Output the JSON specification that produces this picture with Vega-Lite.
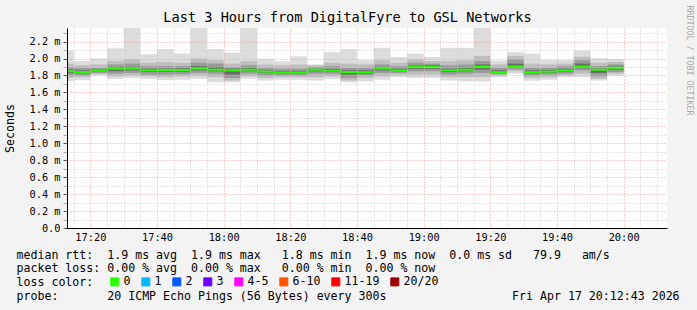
{
  "$schema": "https://vega.github.io/schema/vega-lite/v6.json",
  "width": 600,
  "height": 200,
  "autosize": {"type": "none"},
  "padding": {"left": 67, "top": 28, "right": 30, "bottom": 82},
  "background": "#f3f3f3",
  "config": {"font": "DejaVu Sans Mono", "view": {"fill": "white", "stroke": null}},
  "title": {"text": "Last 3 Hours from DigitalFyre to GSL Networks", "font": "DejaVu Sans Mono", "fontSize": 13.6, "fontWeight": "normal", "color": "black", "anchor": "middle", "frame": "group", "dx": -19.5, "dy": 24, "offset": 4},
  "data": {"values": [
    {"t":"2026-04-17T17:10:00","e":"2026-04-17T17:15:00","loss":"0","mn":1.73,"a1":1.77,"a2":1.80,"a3":1.83,"md":1.85,"b3":1.87,"b2":1.90,"b1":1.94,"mx":2.09},
    {"t":"2026-04-17T17:15:00","e":"2026-04-17T17:20:00","loss":"0","mn":1.745,"a1":1.78,"a2":1.80,"a3":1.825,"md":1.84,"b3":1.86,"b2":1.89,"b1":1.92,"mx":1.97},
    {"t":"2026-04-17T17:20:00","e":"2026-04-17T17:25:00","loss":"0","mn":1.80,"a1":1.815,"a2":1.83,"a3":1.845,"md":1.856,"b3":1.87,"b2":1.89,"b1":1.93,"mx":2.00},
    {"t":"2026-04-17T17:25:00","e":"2026-04-17T17:30:00","loss":"0","mn":1.76,"a1":1.79,"a2":1.82,"a3":1.85,"md":1.88,"b3":1.90,"b2":1.93,"b1":1.97,"mx":2.12},
    {"t":"2026-04-17T17:30:00","e":"2026-04-17T17:35:00","loss":"0","mn":1.77,"a1":1.80,"a2":1.83,"a3":1.86,"md":1.88,"b3":1.90,"b2":1.94,"b1":1.99,"mx":2.40},
    {"t":"2026-04-17T17:35:00","e":"2026-04-17T17:40:00","loss":"0","mn":1.76,"a1":1.79,"a2":1.81,"a3":1.84,"md":1.86,"b3":1.88,"b2":1.91,"b1":1.95,"mx":2.05},
    {"t":"2026-04-17T17:40:00","e":"2026-04-17T17:45:00","loss":"0","mn":1.745,"a1":1.78,"a2":1.81,"a3":1.845,"md":1.864,"b3":1.88,"b2":1.91,"b1":1.96,"mx":2.11},
    {"t":"2026-04-17T17:45:00","e":"2026-04-17T17:50:00","loss":"0","mn":1.75,"a1":1.79,"a2":1.815,"a3":1.845,"md":1.864,"b3":1.885,"b2":1.91,"b1":1.95,"mx":2.06},
    {"t":"2026-04-17T17:50:00","e":"2026-04-17T17:55:00","loss":"0","mn":1.76,"a1":1.80,"a2":1.83,"a3":1.86,"md":1.88,"b3":1.91,"b2":1.95,"b1":2.00,"mx":2.40},
    {"t":"2026-04-17T17:55:00","e":"2026-04-17T18:00:00","loss":"0","mn":1.72,"a1":1.78,"a2":1.82,"a3":1.85,"md":1.868,"b3":1.90,"b2":1.94,"b1":1.98,"mx":2.11},
    {"t":"2026-04-17T18:00:00","e":"2026-04-17T18:05:00","loss":"0","mn":1.72,"a1":1.74,"a2":1.77,"a3":1.81,"md":1.86,"b3":1.88,"b2":1.90,"b1":1.94,"mx":2.07},
    {"t":"2026-04-17T18:05:00","e":"2026-04-17T18:10:00","loss":"0","mn":1.76,"a1":1.79,"a2":1.82,"a3":1.85,"md":1.868,"b3":1.89,"b2":1.92,"b1":1.97,"mx":2.40},
    {"t":"2026-04-17T18:10:00","e":"2026-04-17T18:15:00","loss":"0","mn":1.74,"a1":1.77,"a2":1.80,"a3":1.83,"md":1.845,"b3":1.86,"b2":1.89,"b1":1.93,"mx":1.995},
    {"t":"2026-04-17T18:15:00","e":"2026-04-17T18:20:00","loss":"0","mn":1.75,"a1":1.78,"a2":1.80,"a3":1.82,"md":1.833,"b3":1.85,"b2":1.88,"b1":1.92,"mx":1.966},
    {"t":"2026-04-17T18:20:00","e":"2026-04-17T18:25:00","loss":"0","mn":1.75,"a1":1.78,"a2":1.80,"a3":1.82,"md":1.833,"b3":1.85,"b2":1.88,"b1":1.93,"mx":2.025},
    {"t":"2026-04-17T18:25:00","e":"2026-04-17T18:30:00","loss":"0","mn":1.74,"a1":1.78,"a2":1.82,"a3":1.85,"md":1.868,"b3":1.88,"b2":1.90,"b1":1.92,"mx":1.93},
    {"t":"2026-04-17T18:30:00","e":"2026-04-17T18:35:00","loss":"0","mn":1.76,"a1":1.79,"a2":1.82,"a3":1.84,"md":1.856,"b3":1.875,"b2":1.91,"b1":1.95,"mx":2.075},
    {"t":"2026-04-17T18:35:00","e":"2026-04-17T18:40:00","loss":"0","mn":1.72,"a1":1.74,"a2":1.77,"a3":1.81,"md":1.84,"b3":1.86,"b2":1.89,"b1":1.94,"mx":2.11},
    {"t":"2026-04-17T18:40:00","e":"2026-04-17T18:45:00","loss":"0","mn":1.73,"a1":1.77,"a2":1.80,"a3":1.82,"md":1.838,"b3":1.86,"b2":1.89,"b1":1.93,"mx":1.98},
    {"t":"2026-04-17T18:45:00","e":"2026-04-17T18:50:00","loss":"0","mn":1.75,"a1":1.79,"a2":1.83,"a3":1.86,"md":1.882,"b3":1.90,"b2":1.93,"b1":1.98,"mx":2.125},
    {"t":"2026-04-17T18:50:00","e":"2026-04-17T18:55:00","loss":"0","mn":1.78,"a1":1.81,"a2":1.83,"a3":1.85,"md":1.86,"b3":1.88,"b2":1.91,"b1":1.95,"mx":2.018},
    {"t":"2026-04-17T18:55:00","e":"2026-04-17T19:00:00","loss":"0","mn":1.77,"a1":1.81,"a2":1.85,"a3":1.88,"md":1.903,"b3":1.92,"b2":1.95,"b1":1.99,"mx":2.057},
    {"t":"2026-04-17T19:00:00","e":"2026-04-17T19:05:00","loss":"0","mn":1.77,"a1":1.81,"a2":1.85,"a3":1.88,"md":1.90,"b3":1.92,"b2":1.94,"b1":1.97,"mx":2.018},
    {"t":"2026-04-17T19:05:00","e":"2026-04-17T19:10:00","loss":"0","mn":1.74,"a1":1.78,"a2":1.81,"a3":1.84,"md":1.86,"b3":1.88,"b2":1.92,"b1":1.97,"mx":2.125},
    {"t":"2026-04-17T19:10:00","e":"2026-04-17T19:15:00","loss":"0","mn":1.73,"a1":1.78,"a2":1.82,"a3":1.85,"md":1.868,"b3":1.89,"b2":1.93,"b1":1.98,"mx":2.125},
    {"t":"2026-04-17T19:15:00","e":"2026-04-17T19:20:00","loss":"0","mn":1.73,"a1":1.78,"a2":1.83,"a3":1.87,"md":1.903,"b3":1.93,"b2":1.97,"b1":2.03,"mx":2.40},
    {"t":"2026-04-17T19:20:00","e":"2026-04-17T19:25:00","loss":"0","mn":1.78,"a1":1.80,"a2":1.815,"a3":1.83,"md":1.838,"b3":1.86,"b2":1.89,"b1":1.93,"mx":1.976},
    {"t":"2026-04-17T19:25:00","e":"2026-04-17T19:30:00","loss":"0","mn":1.82,"a1":1.85,"a2":1.87,"a3":1.89,"md":1.905,"b3":1.94,"b2":1.99,"b1":2.03,"mx":2.075},
    {"t":"2026-04-17T19:30:00","e":"2026-04-17T19:35:00","loss":"0","mn":1.738,"a1":1.77,"a2":1.80,"a3":1.825,"md":1.838,"b3":1.86,"b2":1.89,"b1":1.94,"mx":2.057},
    {"t":"2026-04-17T19:35:00","e":"2026-04-17T19:40:00","loss":"0","mn":1.75,"a1":1.78,"a2":1.81,"a3":1.83,"md":1.846,"b3":1.865,"b2":1.89,"b1":1.93,"mx":1.982},
    {"t":"2026-04-17T19:40:00","e":"2026-04-17T19:45:00","loss":"0","mn":1.78,"a1":1.80,"a2":1.82,"a3":1.845,"md":1.86,"b3":1.88,"b2":1.91,"b1":1.94,"mx":1.982},
    {"t":"2026-04-17T19:45:00","e":"2026-04-17T19:50:00","loss":"0","mn":1.78,"a1":1.82,"a2":1.86,"a3":1.885,"md":1.905,"b3":1.94,"b2":1.98,"b1":2.02,"mx":2.096},
    {"t":"2026-04-17T19:50:00","e":"2026-04-17T19:55:00","loss":"0","mn":1.74,"a1":1.76,"a2":1.79,"a3":1.83,"md":1.868,"b3":1.88,"b2":1.91,"b1":1.95,"mx":2.006},
    {"t":"2026-04-17T19:55:00","e":"2026-04-17T20:00:00","loss":"0","mn":1.797,"a1":1.82,"a2":1.84,"a3":1.87,"md":1.89,"b3":1.905,"b2":1.93,"b1":1.96,"mx":1.996}
  ]},
  "encoding": {
    "x": {"field": "t", "type": "temporal",
      "scale": {"domain": [{"year": 2026, "month": "apr", "date": 17, "hours": 17, "minutes": 13}, {"year": 2026, "month": "apr", "date": 17, "hours": 20, "minutes": 13}]},
      "axis": {
        "orient": "bottom",
        "values": [
          {"year": 2026, "month": "apr", "date": 17, "hours": 17, "minutes": 15},
          {"year": 2026, "month": "apr", "date": 17, "hours": 17, "minutes": 20},
          {"year": 2026, "month": "apr", "date": 17, "hours": 17, "minutes": 25},
          {"year": 2026, "month": "apr", "date": 17, "hours": 17, "minutes": 30},
          {"year": 2026, "month": "apr", "date": 17, "hours": 17, "minutes": 35},
          {"year": 2026, "month": "apr", "date": 17, "hours": 17, "minutes": 40},
          {"year": 2026, "month": "apr", "date": 17, "hours": 17, "minutes": 45},
          {"year": 2026, "month": "apr", "date": 17, "hours": 17, "minutes": 50},
          {"year": 2026, "month": "apr", "date": 17, "hours": 17, "minutes": 55},
          {"year": 2026, "month": "apr", "date": 17, "hours": 18, "minutes": 0},
          {"year": 2026, "month": "apr", "date": 17, "hours": 18, "minutes": 5},
          {"year": 2026, "month": "apr", "date": 17, "hours": 18, "minutes": 10},
          {"year": 2026, "month": "apr", "date": 17, "hours": 18, "minutes": 15},
          {"year": 2026, "month": "apr", "date": 17, "hours": 18, "minutes": 20},
          {"year": 2026, "month": "apr", "date": 17, "hours": 18, "minutes": 25},
          {"year": 2026, "month": "apr", "date": 17, "hours": 18, "minutes": 30},
          {"year": 2026, "month": "apr", "date": 17, "hours": 18, "minutes": 35},
          {"year": 2026, "month": "apr", "date": 17, "hours": 18, "minutes": 40},
          {"year": 2026, "month": "apr", "date": 17, "hours": 18, "minutes": 45},
          {"year": 2026, "month": "apr", "date": 17, "hours": 18, "minutes": 50},
          {"year": 2026, "month": "apr", "date": 17, "hours": 18, "minutes": 55},
          {"year": 2026, "month": "apr", "date": 17, "hours": 19, "minutes": 0},
          {"year": 2026, "month": "apr", "date": 17, "hours": 19, "minutes": 5},
          {"year": 2026, "month": "apr", "date": 17, "hours": 19, "minutes": 10},
          {"year": 2026, "month": "apr", "date": 17, "hours": 19, "minutes": 15},
          {"year": 2026, "month": "apr", "date": 17, "hours": 19, "minutes": 20},
          {"year": 2026, "month": "apr", "date": 17, "hours": 19, "minutes": 25},
          {"year": 2026, "month": "apr", "date": 17, "hours": 19, "minutes": 30},
          {"year": 2026, "month": "apr", "date": 17, "hours": 19, "minutes": 35},
          {"year": 2026, "month": "apr", "date": 17, "hours": 19, "minutes": 40},
          {"year": 2026, "month": "apr", "date": 17, "hours": 19, "minutes": 45},
          {"year": 2026, "month": "apr", "date": 17, "hours": 19, "minutes": 50},
          {"year": 2026, "month": "apr", "date": 17, "hours": 19, "minutes": 55},
          {"year": 2026, "month": "apr", "date": 17, "hours": 20, "minutes": 0},
          {"year": 2026, "month": "apr", "date": 17, "hours": 20, "minutes": 5},
          {"year": 2026, "month": "apr", "date": 17, "hours": 20, "minutes": 10}
        ],
        "labelExpr": "minutes(datum.value) % 20 == 0 ? timeFormat(datum.value, '%H:%M') : ''",
        "labelFont": "DejaVu Sans Mono", "labelFontSize": 10.3, "labelColor": "black",
        "ticks": false, "labelPadding": 4, "labelOverlap": false, "labelFlush": false,
        "domainColor": "black", "domainWidth": 1,
        "grid": true,
        "gridColor": {"condition": {"test": "minutes(datum.value) % 20 == 0", "value": "#f2a0a0"}, "value": "#cccccc"},
        "gridDash": [1, 2], "gridWidth": 1,
        "zindex": 1,
        "title": [
          "median rtt:\u00a0\u00a01.9 ms avg\u00a0\u00a01.9 ms max\u00a0\u00a0\u00a01.8 ms min\u00a0\u00a01.9 ms now\u00a0\u00a00.0 ms sd\u00a0\u00a0\u00a079.9\u00a0\u00a0\u00a0am/s",
          "packet loss:\u00a00.00 % avg\u00a0\u00a00.00 % max\u00a0\u00a0\u00a00.00 % min\u00a0\u00a00.00 % now",
          "loss color:",
          "probe:\u00a0\u00a0\u00a0\u00a0\u00a0\u00a0\u00a020 ICMP Echo Pings (56 Bytes) every 300s\u00a0\u00a0\u00a0\u00a0\u00a0\u00a0\u00a0\u00a0\u00a0\u00a0\u00a0\u00a0\u00a0\u00a0\u00a0\u00a0\u00a0\u00a0Fri Apr 17 20:12:43 2026"
        ],
        "titleFont": "DejaVu Sans Mono", "titleFontSize": 11.6, "titleFontWeight": "normal", "titleColor": "black",
        "titleAlign": "left", "titleX": -51, "titleY": 30, "titleBaseline": "alphabetic", "titleLineHeight": 13.9
      }
    },
    "x2": {"field": "e"}
  },
  "layer": [
    {
      "mark": {"type": "bar", "color": "#dcdcdc", "clip": true},
      "encoding": {
        "y": {"field": "mn", "type": "quantitative",
          "scale": {"domain": [0, 2.36], "nice": false, "zero": false},
          "axis": {
            "orient": "left",
            "values": [0, 0.1, 0.2, 0.3, 0.4, 0.5, 0.6, 0.7, 0.8, 0.9, 1.0, 1.1, 1.2, 1.3, 1.4, 1.5, 1.6, 1.7, 1.8, 1.9, 2.0, 2.1, 2.2, 2.3],
            "labelExpr": "round(datum.value * 10) % 2 == 0 ? (datum.value == 0 ? '0.0' : format(datum.value, '.1f') + ' m') : ''",
            "labelFont": "DejaVu Sans Mono", "labelFontSize": 10.3, "labelColor": "black", "labelOverlap": false, "labelFlush": false,
            "tickSize": 4, "labelPadding": 3,
            "tickColor": {"condition": {"test": "round(datum.value * 10) % 2 == 0", "value": "#555555"}, "value": "#aaaaaa"},
            "domainColor": "black", "domainWidth": 1,
            "grid": true,
            "gridColor": {"condition": {"test": "round(datum.value * 10) % 2 == 0", "value": "#f2a0a0"}, "value": "#cccccc"},
            "gridDash": [1, 2], "gridWidth": 1,
            "zindex": 1,
            "title": "Seconds", "titleFont": "DejaVu Sans Mono", "titleFontSize": 11.6, "titleFontWeight": "normal", "titleColor": "black",
            "titleX": -57, "titleY": 100, "titleAngle": 270, "titleAlign": "center", "titleBaseline": "middle"
          }
        },
        "y2": {"field": "mx"}
      }
    },
    {
      "mark": {"type": "bar", "color": "#bebebe", "clip": true},
      "encoding": {
        "y": {"field": "a1", "type": "quantitative",
          "axis": {
            "orient": "right", "labels": false, "ticks": false, "domain": false, "grid": false,
            "title": "RRDTOOL / TOBI OETIKER", "titleFont": "DejaVu Sans Mono", "titleFontSize": 8.3, "titleFontWeight": "normal", "titleColor": "#a8a8a8",
            "titleAngle": 90, "titleX": 21.5, "titleY": 32, "titleAlign": "center", "titleBaseline": "middle"
          }
        },
        "y2": {"field": "b1"}
      }
    },
    {
      "mark": {"type": "bar", "color": "#9a9a9a", "clip": true},
      "encoding": {
        "y": {"field": "a2", "type": "quantitative", "axis": null},
        "y2": {"field": "b2"}
      }
    },
    {
      "mark": {"type": "bar", "color": "#6a6a6a", "clip": true},
      "encoding": {
        "y": {"field": "a3", "type": "quantitative", "axis": null},
        "y2": {"field": "b3"}
      }
    },
    {
      "mark": {"type": "rule", "strokeWidth": 2, "strokeCap": "butt", "clip": true},
      "encoding": {
        "y": {"field": "md", "type": "quantitative", "axis": null},
        "color": {"field": "loss", "type": "nominal",
          "scale": {"domain": ["0", "1", "2", "3", "4-5", "6-10", "11-19", "20/20"],
                    "range": ["#26ff00", "#00b8ff", "#0059ff", "#6e00ff", "#ff00ff", "#ff5500", "#ff0000", "#a10000"]},
          "legend": {
            "orient": "none", "legendX": 42, "legendY": 248, "direction": "horizontal", "title": null,
            "symbolType": "square", "symbolSize": 64, "symbolStrokeWidth": 1, "symbolStrokeColor": "black",
            "labelFont": "DejaVu Sans Mono", "labelFontSize": 11.6, "labelColor": "black", "labelOffset": 3,
            "columnPadding": 8, "padding": 0,
            "encode": {"symbols": {"update": {"fill": {"scale": "color", "field": "value"}, "stroke": {"value": "black"}, "strokeWidth": {"value": 1}, "opacity": {"value": 1}}}}
          }
        }
      }
    }
  ]
}
